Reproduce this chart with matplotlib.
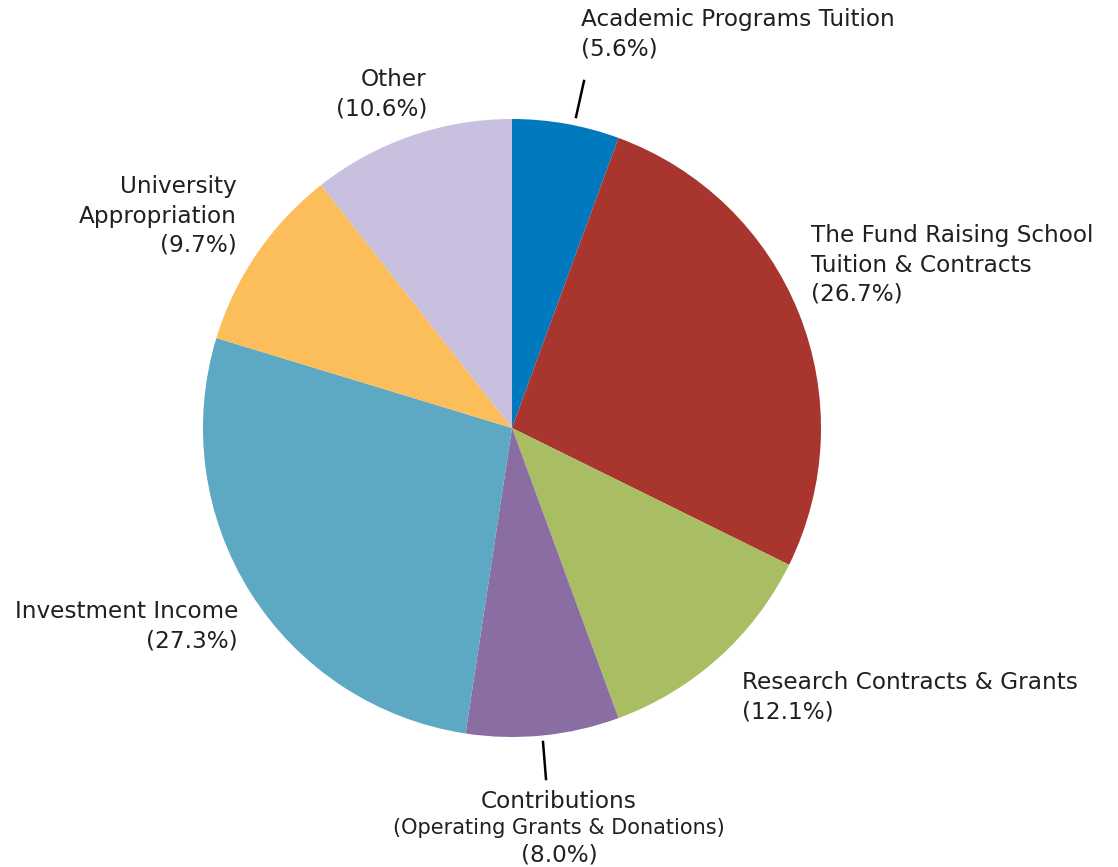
import matplotlib.pyplot as plt

# slice data, clockwise from 12 o'clock
labels = [
    "Academic Programs Tuition",
    "The Fund Raising School\nTuition & Contracts",
    "Research Contracts & Grants",
    "Contributions",
    "Investment Income",
    "University\nAppropriation",
    "Other",
]
shares = [5.6, 26.7, 12.1, 8.0, 27.3, 9.7, 10.6]
colors = ["#0079BE", "#A8352E", "#A9BE63", "#8A6DA2", "#5DA8C2", "#FCBE5B", "#C9BFDF"]

W, H = 1118, 867
fig = plt.figure(figsize=(W / 100, H / 100), dpi=100)
ax = fig.add_axes([0, 0, 1, 1])

cx, cy, r = 512, 428, 309
wedges, _ = ax.pie(shares, colors=colors, startangle=90, counterclock=False,
                   center=(cx, H - cy), radius=r, frame=True,
                   wedgeprops=dict(linewidth=0))
# pie works in y-up coords; mirror the wedges for the inverted y axis
for w in wedges:
    w.set_center((cx, cy))
    th1, th2 = w.theta1, w.theta2
    w.set_theta1(-th2)
    w.set_theta2(-th1)
ax.set_xlim(0, W)
ax.set_ylim(H, 0)
ax.set_aspect("equal")
ax.axis("off")

fam = ["DejaVu Sans"]
font = dict(family=fam, fontsize=16.7, color="#231F20")
# label placement: (x, y, ha)
label_pos = [
    (581, 34, "left"),
    (811, 265, "left"),
    (742, 697, "left"),
    (559, 801, "center"),
    (238, 626, "right"),
    (237, 216, "right"),
    (427, 94, "right"),
]
for lab, val, (x, y, ha) in zip(labels, shares, label_pos):
    if lab == "Contributions":
        ax.text(x, y, lab, ha=ha, va="center", **font)
        ax.text(x, y + 27, "(Operating Grants & Donations)", ha=ha, va="center",
                family=fam, fontsize=15, color="#231F20")
        ax.text(x, y + 54, f"({val:.1f}%)", ha=ha, va="center", **font)
    else:
        ax.text(x, y, f"{lab}\n({val:.1f}%)", ha=ha, va="center",
                linespacing=1.35, multialignment=ha, **font)

# leader lines
ax.plot([576, 584], [117, 81], color="black", lw=1.8)
ax.plot([543, 546], [742, 779], color="black", lw=1.8)

fig.savefig("out.png", dpi=100)
